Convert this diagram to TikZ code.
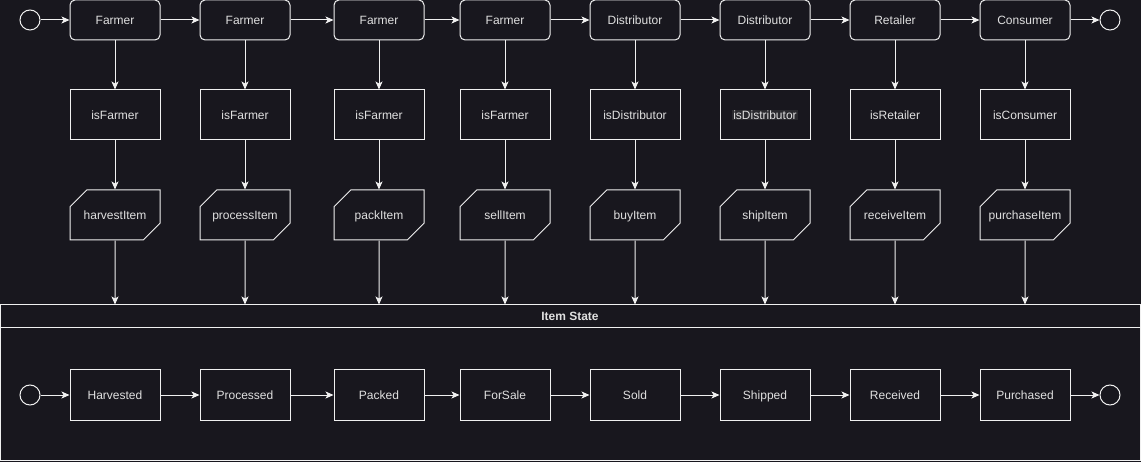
\documentclass[tikz,border=0pt]{standalone}
\usepackage{fontspec}
\setmainfont{Liberation Sans}
\usetikzlibrary{arrows.meta, shapes.misc}

\definecolor{bgdark}{RGB}{24,23,30}
\definecolor{linecol}{RGB}{240,240,240}
\definecolor{textcol}{RGB}{224,224,224}
\definecolor{hilite}{RGB}{42,42,46}

\begin{document}
\begin{tikzpicture}[x=1pt, y=-1pt,
    every node/.style={font=\fontsize{12pt}{14pt}\selectfont, text=textcol, text height=9pt, text depth=0.5pt},
    actor/.style={draw=linecol, line width=1pt, rounded corners=5pt, minimum width=90pt, minimum height=40pt, inner sep=0pt},
    check/.style={draw=linecol, line width=1pt, minimum width=90pt, minimum height=50pt, inner sep=0pt},
    action/.style={draw=linecol, line width=1pt, chamfered rectangle, chamfered rectangle corners={north west, south east}, chamfered rectangle xsep=12pt, chamfered rectangle ysep=12pt, minimum width=90pt, minimum height=50pt, inner sep=0pt},
    endpoint/.style={draw=linecol, line width=1pt, circle, minimum size=20pt, inner sep=0pt, text height=0pt, text depth=0pt},
    flow/.style={draw=linecol, line width=1pt, -{Stealth[length=8pt, width=7pt, inset=2pt]}}]

    % Background
    \fill[bgdark] (0,0) rectangle (1141,462);
    \useasboundingbox (0,0) rectangle (1141,462);

    % Actors
    \node[endpoint] (startTop) at (30,20) {};
    \node[actor] (actor1) at (115,20) {Farmer};
    \node[actor] (actor2) at (245,20) {Farmer};
    \node[actor] (actor3) at (379,20) {Farmer};
    \node[actor] (actor4) at (505,20) {Farmer};
    \node[actor] (actor5) at (635,20) {Distributor};
    \node[actor] (actor6) at (765,20) {Distributor};
    \node[actor] (actor7) at (895,20) {Retailer};
    \node[actor] (actor8) at (1025,20) {Consumer};
    \node[endpoint] (endTop) at (1110,20) {};

    % Role checks
    \node[check] (check1) at (115,115) {isFarmer};
    \node[check] (check2) at (245,115) {isFarmer};
    \node[check] (check3) at (379,115) {isFarmer};
    \node[check] (check4) at (505,115) {isFarmer};
    \node[check] (check5) at (635,115) {isDistributor};
    \node[check] (check6) at (765,115) {\fboxsep=1pt\colorbox{hilite}{isDistributor}};
    \node[check] (check7) at (895,115) {isRetailer};
    \node[check] (check8) at (1025,115) {isConsumer};

    % Actions
    \node[action] (act1) at (115,215) {harvestItem};
    \node[action] (act2) at (245,215) {processItem};
    \node[action] (act3) at (379,215) {packItem};
    \node[action] (act4) at (505,215) {sellItem};
    \node[action] (act5) at (635,215) {buyItem};
    \node[action] (act6) at (765,215) {shipItem};
    \node[action] (act7) at (895,215) {receiveItem};
    \node[action] (act8) at (1025,215) {purchaseItem};

    % Item State container
    \node[draw=linecol, line width=1pt, minimum width=1140pt, minimum height=155pt, inner sep=0pt, text height=0pt, text depth=0pt] (itemState) at (570,382.5) {};
    \node[font=\fontsize{12pt}{14pt}\selectfont\bfseries] (itemTitle) at (570,316.5) {Item State};
    \draw[linecol, line width=1pt] (itemState.west |- 0,328) -- (itemState.east |- 0,328);

    % States
    \node[endpoint] (startState) at (30,395) {};
    \node[check] (state1) at (115,395) {Harvested};
    \node[check] (state2) at (245,395) {Processed};
    \node[check] (state3) at (379,395) {Packed};
    \node[check] (state4) at (505,395) {ForSale};
    \node[check] (state5) at (635,395) {Sold};
    \node[check] (state6) at (765,395) {Shipped};
    \node[check] (state7) at (895,395) {Received};
    \node[check] (state8) at (1025,395) {Purchased};
    \node[endpoint] (endState) at (1110,395) {};

    % Top flow
    \draw[flow] (startTop) -- (actor1);
    \draw[flow] (actor1) -- (actor2);
    \draw[flow] (actor2) -- (actor3);
    \draw[flow] (actor3) -- (actor4);
    \draw[flow] (actor4) -- (actor5);
    \draw[flow] (actor5) -- (actor6);
    \draw[flow] (actor6) -- (actor7);
    \draw[flow] (actor7) -- (actor8);
    \draw[flow] (actor8) -- (endTop);

    % Actor to check to action to state
    \draw[flow] (actor1) -- (check1);
    \draw[flow] (actor2) -- (check2);
    \draw[flow] (actor3) -- (check3);
    \draw[flow] (actor4) -- (check4);
    \draw[flow] (actor5) -- (check5);
    \draw[flow] (actor6) -- (check6);
    \draw[flow] (actor7) -- (check7);
    \draw[flow] (actor8) -- (check8);

    \draw[flow] (check1) -- (act1);
    \draw[flow] (check2) -- (act2);
    \draw[flow] (check3) -- (act3);
    \draw[flow] (check4) -- (act4);
    \draw[flow] (check5) -- (act5);
    \draw[flow] (check6) -- (act6);
    \draw[flow] (check7) -- (act7);
    \draw[flow] (check8) -- (act8);

    \draw[flow] (act1) -- (act1 |- itemState.north);
    \draw[flow] (act2) -- (act2 |- itemState.north);
    \draw[flow] (act3) -- (act3 |- itemState.north);
    \draw[flow] (act4) -- (act4 |- itemState.north);
    \draw[flow] (act5) -- (act5 |- itemState.north);
    \draw[flow] (act6) -- (act6 |- itemState.north);
    \draw[flow] (act7) -- (act7 |- itemState.north);
    \draw[flow] (act8) -- (act8 |- itemState.north);

    % State flow
    \draw[flow] (startState) -- (state1);
    \draw[flow] (state1) -- (state2);
    \draw[flow] (state2) -- (state3);
    \draw[flow] (state3) -- (state4);
    \draw[flow] (state4) -- (state5);
    \draw[flow] (state5) -- (state6);
    \draw[flow] (state6) -- (state7);
    \draw[flow] (state7) -- (state8);
    \draw[flow] (state8) -- (endState);

\end{tikzpicture}
\end{document}
